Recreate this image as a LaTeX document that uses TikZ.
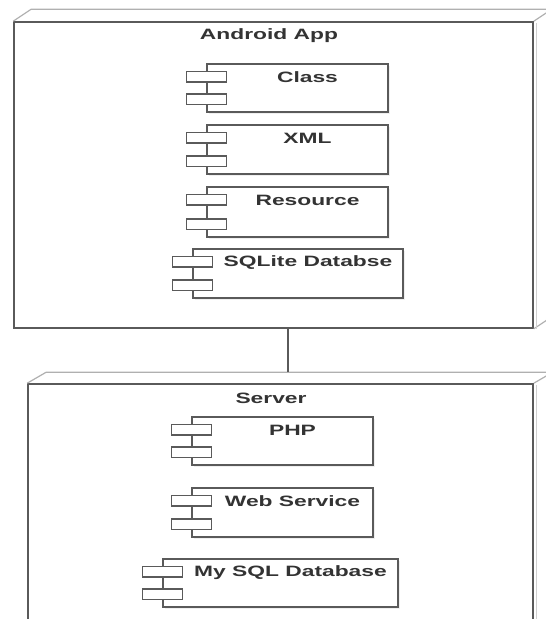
\documentclass[tikz,border=0pt]{standalone}
\usepackage{fontspec}
\newfontfamily\lblfont[FakeStretch=1.52]{Liberation Sans}
\usetikzlibrary{calc,fit,shadows}
\definecolor{edge}{HTML}{5A5A5A}
\definecolor{depthc}{HTML}{B0B0B0}
\definecolor{txt}{HTML}{333333}
\tikzset{
  frontface/.style={draw=edge, line width=1.6pt, inner sep=0pt},
  depthline/.style={draw=depthc, line width=1.2pt, line join=round},
  compbox/.style={draw=edge, line width=1.3pt, fill=white, inner sep=0pt,
    drop shadow={shadow xshift=2pt, shadow yshift=-2pt, opacity=0.12}},
  port/.style={draw=edge, line width=1.3pt, fill=white, minimum width=40pt, minimum height=10.5pt, inner sep=0pt},
  lbl/.style={text=txt, font=\lblfont\bfseries\fontsize{15}{17}\selectfont, inner sep=0pt},
  conn/.style={draw=edge, line width=1.4pt}
}
\newcommand\comp[6]{%
  \node[compbox, fit={(#2,#3) (#4,#5)}] (#1) {};
  \node[port] (#1a) at ($(#1.north west)+(0,13.5)$) {};
  \node[port] (#1b) at ($(#1.south west)+(0,-13.5)$) {};
  \node[lbl] (#1t) at ($(#1.north)+(10,14)$) {#6};
}
\begin{document}
\begin{tikzpicture}[x=1pt,y=-1pt]
\useasboundingbox (0,0) rectangle (546,619);
\clip (0,0) rectangle (546,619);
\fill[white] (0,0) rectangle (546,619);
% Android App deployment node
\node[frontface, fit={(14,22) (533,328)}] (android) {};
\draw[depthline] (android.north west) -- ++(18,-12) -- ($(android.north east)+(18,-12)$) -- (android.north east);
\draw[depthline] ($(android.north east)+(18,-12)$) -- ($(android.south east)+(18,-12)$) -- (android.south east);
\draw[draw=depthc!60, line width=1.5pt] ($(android.north east)+(2.5,2)$) -- ($(android.south east)+(2.5,0)$);
\node[lbl] (androidt) at (269,36) {Android App};
% Server deployment node
\node[frontface, fit={(28,384) (533,640)}] (server) {};
\draw[depthline] (server.north west) -- ++(19,-11) -- ($(server.north east)+(19,-11)$) -- (server.north east);
\draw[depthline] ($(server.north east)+(19,-11)$) -- ($(server.south east)+(19,-11)$);
\draw[draw=depthc!60, line width=1.5pt] ($(server.north east)+(2.5,2)$) -- ($(server.south east)+(2.5,0)$);
\node[lbl] (servert) at (271,398) {Server};
% connector
\coordinate (cx) at (288,0);
\coordinate (srvback) at ($(server.north west)+(19,-11)$);
\draw[conn] (android.south -| cx) -- (cx |- srvback);
% components
\comp{cls}{207}{64}{388}{112}{Class}
\comp{xml}{207}{125}{388}{174}{XML}
\comp{res}{207}{187}{388}{237}{Resource}
\comp{sql}{193}{249}{403}{298}{SQLite Databse}
\comp{php}{192}{417}{373}{465}{PHP}
\comp{web}{192}{488}{373}{537}{Web Service}
\comp{mys}{163}{559}{398}{607}{My SQL Database}
\end{tikzpicture}
\end{document}
